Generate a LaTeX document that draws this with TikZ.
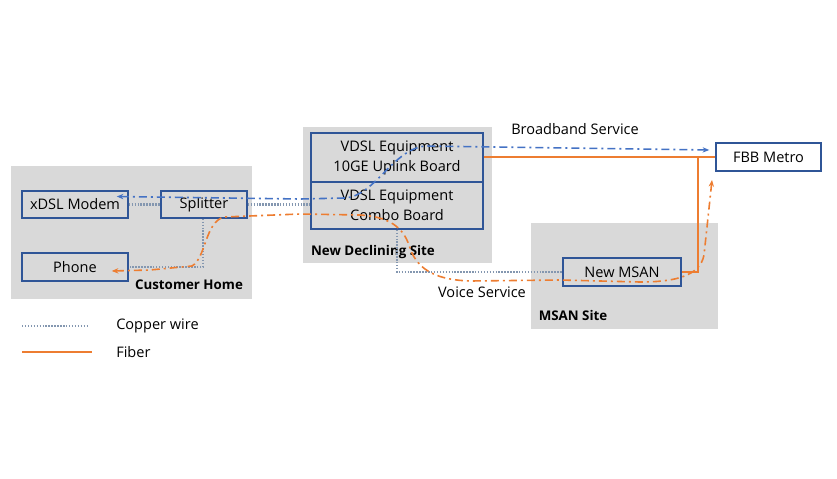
\documentclass[tikz,border=0pt]{standalone}
\usepackage{fontspec}
\setmainfont{Open Sans}
\usetikzlibrary{calc,arrows.meta}
\definecolor{sitegray}{HTML}{D9D9D9}
\definecolor{boxblue}{HTML}{2F5597}
\definecolor{bbblue}{HTML}{4472C4}
\definecolor{fiberor}{HTML}{ED7D31}
\definecolor{copperc}{HTML}{8497B0}
\tikzset{
  site/.style={fill=sitegray, draw=none},
  eqbox/.style={draw=boxblue, line width=1.1pt, inner sep=0pt, font=\fontsize{10.9}{15}\selectfont, align=center},
  lbl/.style={inner sep=0pt, font=\fontsize{10.9}{13}\selectfont},
  sitelbl/.style={inner sep=0pt, font=\fontsize{10}{12}\selectfont\bfseries},
  copper/.style={draw=copperc, line width=1.8pt, dash pattern=on 1.1pt off 1.1pt},
  fiber/.style={draw=fiberor, line width=1.2pt},
  dashdot/.style={line width=1.2pt, dash pattern=on 6pt off 3pt on 1.5pt off 3pt},
  bb/.style={dashdot, draw=bbblue, {Stealth[length=5pt,width=4pt]}-{Stealth[length=5pt,width=4pt]}},
  voice/.style={dashdot, draw=fiberor, {Stealth[length=5pt,width=4pt]}-{Stealth[length=5pt,width=4pt]}},
}
\begin{document}
\begin{tikzpicture}[x=0.75pt, y=-0.75pt]
\useasboundingbox (0,0) rectangle (837,478);
% sites
\fill[site] (11,166) rectangle (252,299);
\fill[site] (303,127) rectangle (492,263);
\fill[site] (531,223) rectangle (718,329);
% boxes
\node[eqbox, minimum width=106*0.75pt, minimum height=27*0.75pt] (modem) at (75,204.5) {xDSL Modem};
\node[eqbox, minimum width=86*0.75pt, minimum height=27*0.75pt] (splitter) at (204,204.5) {Splitter};
\node[eqbox, minimum width=106*0.75pt, minimum height=28*0.75pt] (phone) at (75,267) {Phone};
\node[eqbox, minimum width=172*0.75pt, minimum height=49*0.75pt] (uplink) at (397,157.5) {VDSL Equipment\\10GE Uplink Board};
\node[eqbox, minimum width=172*0.75pt, minimum height=47*0.75pt] (combo) at (397,205.5) {VDSL Equipment\\Combo Board};
\node[eqbox, minimum width=105*0.75pt, minimum height=28*0.75pt] (fbb) at (768.5,157) {FBB Metro};
\node[eqbox, minimum width=118*0.75pt, minimum height=28*0.75pt] (msan) at (622,272) {New MSAN};
% labels
\node[lbl] (bblbl) at (575,129) {Broadband Service};
\node[lbl] (vclbl) at (482,292) {Voice Service};
\node[sitelbl] (chlbl) at (189,285) {Customer Home};
\node[sitelbl] (ndlbl) at (373,252) {New Declining Site};
\node[sitelbl] (mslbl) at (573,315) {MSAN Site};
% copper
\draw[copper] (modem.east) -- (splitter.west);
\draw[copper] (splitter.east) -- (splitter.east -| combo.west);
\draw[copper] ([xshift=-0.75pt]splitter.south) |- (phone.east);
\draw[copper] (combo.south) |- (msan.west);
% fiber
\coordinate (fj) at (698,157);
\draw[fiber] (uplink.east |- fbb.west) -- (fbb.west);
\draw[fiber] (msan.east) -| (fj);
% broadband service
\draw[bb] ($(modem.east)+(-12,-8)$) -- (300,199) -- (345,198)
  .. controls (375,196) and (392,150) .. (425,146) -- ($(fbb.west)+(-6,-7)$);
% voice service
\draw[voice] ($(phone.east)+(-17,4)$) -- (150,270) -- (192,266)
  .. controls (206,258) and (205,222) .. (224,217) -- (300,214) -- (360,215)
  .. controls (395,217) and (405,232) .. (410,248)
  .. controls (418,272) and (440,280) .. (470,281) -- (560,280) -- (640,282)
  .. controls (675,282) and (700,276) .. (704,255) -- (712,180);
% legend
\coordinate (cl1) at (22,326); \coordinate (cl2) at (89,326);
\coordinate (fl1) at (22,352); \coordinate (fl2) at (92,352);
\draw[copper] (cl1) -- (cl2);
\draw[fiber] (fl1) -- (fl2);
\node[lbl, anchor=west] (cwlbl) at (116,326) {Copper wire};
\node[lbl, anchor=west] (fblbl) at (116,352) {Fiber};
\end{tikzpicture}
\end{document}
